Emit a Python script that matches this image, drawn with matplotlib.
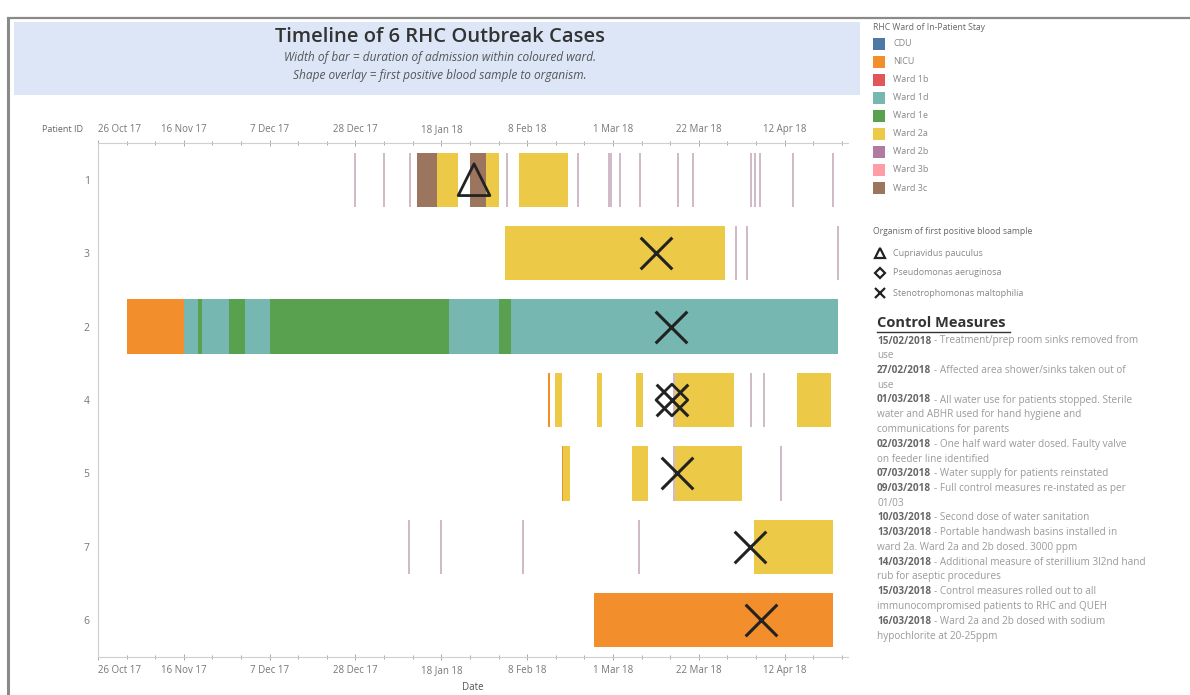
import matplotlib
matplotlib.use("Agg")
import matplotlib.pyplot as plt
import matplotlib.dates as mdates
from matplotlib.patches import Rectangle
from matplotlib.lines import Line2D
import pandas as pd

# ---------------- data ----------------
patients = ["1", "3", "2", "4", "5", "7", "6"]

wards = ["CDU", "NICU", "Ward 1b", "Ward 1d", "Ward 1e", "Ward 2a", "Ward 2b", "Ward 3b", "Ward 3c"]
ward_colors = ["#4e79a7", "#f28e2b", "#e15759", "#76b7b2", "#59a14f", "#edc948", "#b07aa1", "#ff9da7", "#9c755f"]

stay_patient = ["1", "1", "1", "1", "1",
                "3",
                "2", "2", "2", "2", "2", "2", "2", "2", "2", "2",
                "4", "4", "4", "4", "4", "4",
                "5", "5", "5", "5",
                "7",
                "6"]
stay_ward = ["Ward 3c", "Ward 2a", "Ward 3c", "Ward 2a", "Ward 2a",
             "Ward 2a",
             "NICU", "Ward 1d", "Ward 1e", "Ward 1d", "Ward 1e", "Ward 1d", "Ward 1e", "Ward 1d", "Ward 1e", "Ward 1d",
             "NICU", "Ward 2a", "Ward 2a", "Ward 2a", "Ward 2a", "Ward 2a",
             "NICU", "Ward 2a", "Ward 2a", "Ward 2a",
             "Ward 2a",
             "NICU"]
stay_start = ["2018-01-12", "2018-01-17", "2018-01-25", "2018-01-29", "2018-02-06",
              "2018-02-02 12:00",
              "2017-11-02", "2017-11-16", "2017-11-19 12:00", "2017-11-20 12:00", "2017-11-27", "2017-12-01", "2017-12-07", "2018-01-20", "2018-02-01", "2018-02-04",
              "2018-02-13", "2018-02-14 20:00", "2018-02-25", "2018-03-06 16:00", "2018-03-16 02:00", "2018-04-14 22:00",
              "2018-02-16 12:00", "2018-02-16 20:00", "2018-03-05 16:00", "2018-03-16 02:00",
              "2018-04-04 12:00",
              "2018-02-24 08:00"]
stay_end = ["2018-01-17", "2018-01-22", "2018-01-29", "2018-02-01", "2018-02-18",
            "2018-03-28 12:00",
            "2017-11-16", "2017-11-19 12:00", "2017-11-20 12:00", "2017-11-27", "2017-12-01", "2017-12-07", "2018-01-20", "2018-02-01", "2018-02-04", "2018-04-25",
            "2018-02-13 12:00", "2018-02-16 12:00", "2018-02-26 06:00", "2018-03-08 10:00", "2018-03-30 16:00", "2018-04-23 10:00",
            "2018-02-16 20:00", "2018-02-18 12:00", "2018-03-09 14:00", "2018-04-01 14:00",
            "2018-04-23 22:00",
            "2018-04-23 22:00"]

# one-day visits drawn as thin lines
visit_patient = ["1"] * 16 + ["3"] * 3 + ["4"] * 3 + ["5"] * 2 + ["7"] * 4
visit_date = ["2017-12-28", "2018-01-04", "2018-01-10 08:00", "2018-02-03", "2018-02-20 10:00",
              "2018-02-27 22:00", "2018-02-28 14:00", "2018-03-02 20:00", "2018-03-07 16:00",
              "2018-03-16 22:00", "2018-03-20 16:00", "2018-04-03 20:00", "2018-04-04 20:00",
              "2018-04-06", "2018-04-14", "2018-04-23 22:00",
              "2018-03-31 04:00", "2018-04-02 20:00", "2018-04-25 02:00",
              "2018-03-15 22:00", "2018-04-03 20:00", "2018-04-06 22:00",
              "2018-03-15 22:00", "2018-04-11",
              "2018-01-10", "2018-01-18", "2018-02-07 02:00", "2018-03-07 10:00"]

sample_patient = ["1", "3", "2", "4", "4", "5", "7", "6"]
sample_date = ["2018-01-26", "2018-03-11 12:00", "2018-03-15 04:00", "2018-03-15 10:00",
               "2018-03-15 10:00", "2018-03-16 14:00", "2018-04-03 12:00", "2018-04-06 04:00"]
sample_organism = ["Cupriavidus pauculus", "Stenotrophomonas maltophilia", "Stenotrophomonas maltophilia",
                   "Pseudomonas aeruginosa", "Stenotrophomonas maltophilia", "Stenotrophomonas maltophilia",
                   "Stenotrophomonas maltophilia", "Stenotrophomonas maltophilia"]
organisms = ["Cupriavidus pauculus", "Pseudomonas aeruginosa", "Stenotrophomonas maltophilia"]
organism_markers = ["^", "D", "x"]

tick_dates = ["2017-10-26", "2017-11-16", "2017-12-07", "2017-12-28", "2018-01-18",
              "2018-02-08", "2018-03-01", "2018-03-22", "2018-04-12"]
tick_labels = ["26 Oct 17", "16 Nov 17", "7 Dec 17", "28 Dec 17", "18 Jan 18",
               "8 Feb 18", "1 Mar 18", "22 Mar 18", "12 Apr 18"]

measure_dates = ["15/02/2018", "27/02/2018", "01/03/2018", "02/03/2018", "07/03/2018", "09/03/2018",
                 "10/03/2018", "13/03/2018", "14/03/2018", "15/03/2018", "16/03/2018"]
measure_text = [
    ["Treatment/prep room sinks removed from", "use"],
    ["Affected area shower/sinks taken out of", "use"],
    ["All water use for patients stopped. Sterile", "water and ABHR used for hand hygiene and", "communications for parents"],
    ["One half ward water dosed. Faulty valve", "on feeder line identified"],
    ["Water supply for patients reinstated"],
    ["Full control measures re-instated as per", "01/03"],
    ["Second dose of water sanitation"],
    ["Portable handwash basins installed in", "ward 2a. Ward 2a and 2b dosed. 3000 ppm"],
    ["Additional measure of sterillium 3l2nd hand", "rub for aseptic procedures"],
    ["Control measures rolled out to all", "immunocompromised patients to RHC and QUEH"],
    ["Ward 2a and 2b dosed with sodium", "hypochlorite at 20-25ppm"],
]

# ---------------- figure ----------------
W, H = 1190, 695
plt.rcParams["font.family"] = ["Open Sans", "DejaVu Sans"]
fig = plt.figure(figsize=(W / 100, H / 100), dpi=100)
fig.patch.set_facecolor("white")


def fx(px):
    return px / W


def fy(py):
    return 1 - py / H


# frame lines
fig.add_artist(Line2D([fx(8), fx(W)], [fy(18), fy(18)], color="#8a8a8a", lw=1.6))
fig.add_artist(Line2D([fx(8), fx(8)], [fy(18), fy(H)], color="#8a8a8a", lw=2.2))
# title band
fig.add_artist(Rectangle((fx(14), fy(95)), fx(860) - fx(14), fy(22) - fy(95),
                         facecolor="#dde6f7", edgecolor="none"))
fig.text(fx(440), fy(37), "Timeline of 6 RHC Outbreak Cases", ha="center", va="center",
         fontsize=14.5, fontweight="semibold", color="#333333")
fig.text(fx(440), fy(58), "Width of bar = duration of admission within coloured ward.",
         ha="center", va="center", fontsize=8.6, style="italic", color="#555555")
fig.text(fx(440), fy(76), "Shape overlay = first positive blood sample to organism.",
         ha="center", va="center", fontsize=8.6, style="italic", color="#555555")

# main axes
ax = fig.add_axes([fx(98), fy(657), fx(848) - fx(98), fy(143) - fy(657)])
ax.set_xlim(pd.Timestamp("2017-10-26"), pd.Timestamp("2018-04-27 12:00"))
ax.set_ylim(len(patients) - 0.5, -0.5)
ypos = {p: i for i, p in enumerate(patients)}
cmap = dict(zip(wards, ward_colors))
bar_h = 0.74

for p, w, s, e in zip(stay_patient, stay_ward, stay_start, stay_end):
    s = pd.Timestamp(s)
    e = pd.Timestamp(e)
    ax.barh(ypos[p], e - s, left=s, height=bar_h, color=cmap[w], edgecolor="none")

for p, d in zip(visit_patient, visit_date):
    y = ypos[p]
    ax.vlines(pd.Timestamp(d), y - bar_h / 2, y + bar_h / 2, color="#c2a6b8", lw=1.1)

mk = dict(zip(organisms, organism_markers))
for p, d, o in zip(sample_patient, sample_date, sample_organism):
    m = mk[o]
    if m == "x":
        ax.scatter(pd.Timestamp(d), ypos[p], marker="x", s=520, color="#222222", linewidths=2.2, zorder=5)
    else:
        ax.scatter(pd.Timestamp(d), ypos[p], marker=m, s=520 if m == "^" else 260, facecolor="none",
                   edgecolor="#222222", linewidths=2.0, zorder=5)

ax.set_yticks(range(len(patients)))
ax.set_yticklabels(patients)
ax.set_xticks([pd.Timestamp(t) for t in tick_dates])
ax.set_xticklabels(tick_labels)
ax.xaxis.set_minor_locator(mdates.WeekdayLocator(byweekday=mdates.TH))
ax.tick_params(axis="x", which="both", top=True, labeltop=True, bottom=True, labelbottom=True,
               direction="inout", colors="#999999", labelcolor="#777777", labelsize=7, length=5, width=0.6)
ax.tick_params(axis="x", which="minor", length=3)
ax.tick_params(axis="y", length=0, labelcolor="#777777", labelsize=7.5, pad=6)
ax.spines["right"].set_visible(False)
for sp in ["top", "bottom", "left"]:
    ax.spines[sp].set_color("#cfcfcf")
    ax.spines[sp].set_linewidth(0.8)
# first date label sits inside the axis start (as in the reference)
for lab in ax.xaxis.get_majorticklabels():
    pass
ticks = ax.xaxis.get_major_ticks()
ticks[0].label1.set_horizontalalignment("left")
ticks[0].label2.set_horizontalalignment("left")
ax.set_xlabel("Date", fontsize=7, color="#555555", labelpad=4)
fig.text(fx(63), fy(130), "Patient ID", ha="center", va="center", fontsize=6.5, color="#666666")

# ---------------- legend ----------------
fig.text(fx(873), fy(28), "RHC Ward of In-Patient Stay", ha="left", va="center", fontsize=6.2, color="#666666")
for i, (w, c) in enumerate(zip(wards, ward_colors)):
    y = 44 + 18 * i
    fig.add_artist(Rectangle((fx(873), fy(y + 6)), fx(12), fy(0) - fy(12), facecolor=c, edgecolor="none"))
    fig.text(fx(893), fy(y), w, ha="left", va="center", fontsize=6.5, color="#888888")

fig.text(fx(873), fy(232), "Organism of first positive blood sample", ha="left", va="center",
         fontsize=6.2, color="#666666")
for i, (o, m) in enumerate(zip(organisms, organism_markers)):
    y = 253 + 20 * i
    fig.add_artist(Line2D([fx(880)], [fy(y)], marker=m, markersize=7 if m != "D" else 5.5,
                          markerfacecolor="none", markeredgecolor="#222222", markeredgewidth=1.6,
                          linestyle="none"))
    fig.text(fx(893), fy(y), o, ha="left", va="center", fontsize=6.5, color="#888888")

# ---------------- control measures ----------------
fig.text(fx(877), fy(323), "Control Measures", ha="left", va="center", fontsize=10.5,
         fontweight="bold", color="#333333")
fig.add_artist(Line2D([fx(877), fx(1010)], [fy(332), fy(332)], color="#333333", lw=1.0))

renderer = fig.canvas.get_renderer()
line_y = 341
step = 14.75
fs = 7.2
for d, lines in zip(measure_dates, measure_text):
    td = fig.text(fx(877), fy(line_y), d, ha="left", va="center", fontsize=fs,
                  fontweight="bold", color="#666666")
    bb = td.get_window_extent(renderer=renderer)
    fig.text(fx(bb.x1 + 3), fy(line_y), "- " + lines[0], ha="left", va="center", fontsize=fs,
             color="#9a9a9a")
    line_y += step
    for extra in lines[1:]:
        fig.text(fx(877), fy(line_y), extra, ha="left", va="center", fontsize=fs, color="#9a9a9a")
        line_y += step

fig.savefig("out.png", dpi=100, facecolor="white")
